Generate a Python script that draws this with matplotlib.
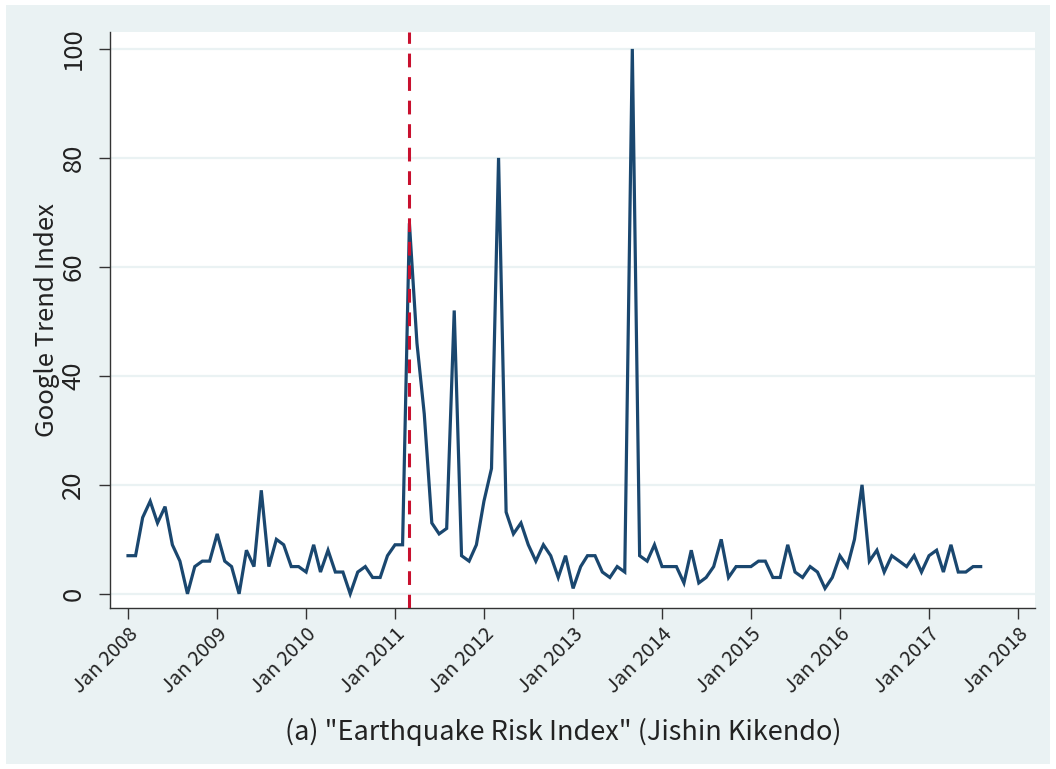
import matplotlib
matplotlib.use("Agg")
import matplotlib.pyplot as plt
import pandas as pd
from matplotlib.patches import Rectangle

# ---- data ----
start_month = "2008-01-01"
values = [
    7, 7, 14, 17, 13, 16, 9, 6, 0, 5, 6, 6,          # 2008
    11, 6, 5, 0, 8, 5, 19, 5, 10, 9, 5, 5,           # 2009
    4, 9, 4, 8, 4, 4, 0, 4, 5, 3, 3, 7,              # 2010
    9, 9, 68, 46, 33, 13, 11, 12, 52, 7, 6, 9,       # 2011
    17, 23, 80, 15, 11, 13, 9, 6, 9, 7, 3, 7,        # 2012
    1, 5, 7, 7, 4, 3, 5, 4, 100, 7, 6, 9,            # 2013
    5, 5, 5, 2, 8, 2, 3, 5, 10, 3, 5, 5,             # 2014
    5, 6, 6, 3, 3, 9, 4, 3, 5, 4, 1, 3,              # 2015
    7, 5, 10, 20, 6, 8, 4, 7, 6, 5, 7, 4,            # 2016
    7, 8, 4, 9, 4, 4, 5, 5,                          # 2017
]
event_date = "2011-03-01"
year_ticks = list(range(2008, 2019))
y_ticks = [0, 20, 40, 60, 80, 100]
y_label = "Google Trend Index"
caption = '(a) "Earthquake Risk Index" (Jishin Kikendo)'

dates = pd.date_range(start_month, periods=len(values), freq="MS")

# ---- style ----
BG = "#EAF2F3"
NAVY = "#1A476F"
RED = "#C8102E"
FONT = ["Noto Sans CJK JP", "DejaVu Sans"]

W, H = 1056, 769
fig = plt.figure(figsize=(W / 100, H / 100), dpi=100, facecolor="white")
fig.patches.append(Rectangle((6 / W, 5 / H), 1 - 12 / W, 1 - 10 / H,
                             transform=fig.transFigure, facecolor=BG,
                             edgecolor="none", zorder=-10))

left, right, top, bottom = 110, 1035, 32, 608
ax = fig.add_axes([left / W, 1 - bottom / H, (right - left) / W, (bottom - top) / H])
ax.set_facecolor("white")

ax.plot(dates, values, color=NAVY, lw=2.3, zorder=3, solid_joinstyle="miter")
ax.axvline(pd.Timestamp(event_date), color=RED, lw=2.2, dashes=(4.5, 3.2), zorder=4)

ax.set_ylim(-2.6, 103.1)
x0 = pd.Timestamp("2008-01-01") - pd.Timedelta(days=74)
x1 = pd.Timestamp("2018-01-01") + pd.Timedelta(days=70)
ax.set_xlim(x0, x1)

ax.set_yticks(y_ticks)
ax.set_yticklabels([str(v) for v in y_ticks], rotation=90, va="center",
                   fontsize=18.5, family=FONT, color="#222222")
ax.yaxis.grid(True, color=BG, lw=1.6)
ax.set_axisbelow(True)

xt = [pd.Timestamp(f"{y}-01-01") for y in year_ticks]
ax.set_xticks(xt)
ax.set_xticklabels([f"Jan {y}" for y in year_ticks], rotation=45, ha="right",
                   rotation_mode="anchor", fontsize=14.5, family=FONT, color="#222222")

ax.tick_params(axis="both", direction="out", length=8, width=1.0, color="#333333")
ax.tick_params(axis="x", pad=3)
ax.tick_params(axis="y", pad=9)

for s in ["top", "right"]:
    ax.spines[s].set_visible(False)
for s in ["left", "bottom"]:
    ax.spines[s].set_color("#333333")
    ax.spines[s].set_linewidth(1.0)

ax.set_ylabel(y_label, fontsize=18.5, family=FONT, color="#222222", labelpad=0)

fig.text(563 / W, 1 - 732 / H, caption, ha="center", va="center",
         fontsize=19.5, family=FONT, color="#222222")

fig.savefig("out.png", dpi=100, facecolor="white")
